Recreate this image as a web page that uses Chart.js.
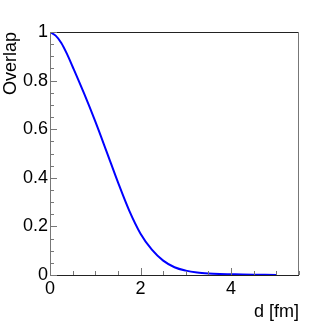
<!DOCTYPE html>
<html>
<head>
<meta charset="utf-8">
<script src="https://cdn.jsdelivr.net/npm/chart.js@4/dist/chart.umd.min.js"></script>
<style>
  html, body { margin: 0; padding: 0; background: #fff; }
</style>
</head>
<body>
<canvas id="overlap-chart" width="332" height="324"></canvas>
<script>
( function () {
	'use strict';

	// distance d [fm] and overlap
	var dValues = [ 0, 0.125, 0.25, 0.375, 0.5, 0.75, 1.0, 1.25, 1.5, 1.75, 2.0, 2.25, 2.5, 2.75, 3.0, 3.25, 3.5, 3.75, 4.0, 4.25, 4.5, 4.75, 5.0 ];
	var overlapValues = [ 1.0, 0.985, 0.955, 0.91, 0.857, 0.748, 0.632, 0.508, 0.382, 0.265, 0.17, 0.104, 0.059, 0.032, 0.018, 0.01, 0.006, 0.004, 0.003, 0.002, 0.0012, 0.0008, 0.0005 ];

	var xMajorTicks = [ 0, 2, 4 ];
	var yMajorTicks = [ 0, 0.2, 0.4, 0.6, 0.8, 1 ];
	var xMinorStep = 0.5;
	var yMinorStep = 0.05;

	var points = dValues.map( function ( d, i ) {
		return { x: d, y: overlapValues[ i ] };
	} );

	var font = { family: '"Liberation Sans", Arial, Helvetica, sans-serif', size: 18 };

	function plainNumber( value ) {
		return String( Number( value.toFixed( 2 ) ) );
	}

	// ROOT-like frame with inward tick marks
	var framePlugin = {
		id: 'rootFrame',
		afterDraw: function ( chart ) {
			var ctx = chart.ctx;
			var a = chart.chartArea;
			var xs = chart.scales.x;
			var ys = chart.scales.y;
			var v, p;
			ctx.save();
			ctx.lineWidth = 1;

			ctx.strokeStyle = '#222';
			ctx.beginPath();
			ctx.moveTo( a.left, Math.round( a.top ) + 0.5 );
			ctx.lineTo( a.right, Math.round( a.top ) + 0.5 );
			ctx.moveTo( a.left, Math.round( a.bottom ) + 0.5 );
			ctx.lineTo( a.right, Math.round( a.bottom ) + 0.5 );
			ctx.stroke();

			ctx.strokeStyle = '#777';
			ctx.beginPath();
			ctx.moveTo( Math.round( a.left ) + 0.5, a.top );
			ctx.lineTo( Math.round( a.left ) + 0.5, a.bottom );
			ctx.moveTo( Math.round( a.right ) - 0.5, a.top );
			ctx.lineTo( Math.round( a.right ) - 0.5, a.bottom );
			ctx.stroke();

			ctx.beginPath();
			for ( v = 0; v <= xs.max + 1e-9; v += xMinorStep ) {
				p = Math.round( xs.getPixelForValue( v ) ) + 0.5;
				var xl = xMajorTicks.indexOf( Math.round( v * 100 ) / 100 ) >= 0 ? 7 : 4;
				ctx.moveTo( p, a.bottom );
				ctx.lineTo( p, a.bottom - xl );
			}
			for ( v = 0; v <= ys.max + 1e-9; v += yMinorStep ) {
				p = Math.round( ys.getPixelForValue( v ) ) + 0.5;
				var major = yMajorTicks.some( function ( t ) {
					return Math.abs( t - v ) < 1e-6;
				} );
				ctx.moveTo( a.left, p );
				ctx.lineTo( a.left + ( major ? 7 : 4 ), p );
			}
			ctx.stroke();
			ctx.restore();
		},
	};

	new Chart( document.getElementById( 'overlap-chart' ).getContext( '2d' ), {
		type: 'line',
		data: {
			datasets: [ {
				label: 'Overlap',
				data: points,
				borderColor: '#0000ff',
				borderWidth: 2,
				pointRadius: 0,
				fill: false,
				cubicInterpolationMode: 'monotone',
			} ],
		},
		options: {
			responsive: false,
			animation: false,
			layout: { padding: { top: 32, right: 33, bottom: 0, left: 0 } },
			plugins: {
				legend: { display: false },
				tooltip: { enabled: false },
			},
			scales: {
				x: {
					type: 'linear',
					min: 0,
					max: 5.5,
					grid: { display: false, drawTicks: false },
					border: { display: false },
					ticks: {
						stepSize: 2,
						includeBounds: false,
						padding: 3,
						color: '#000',
						font: font,
						maxRotation: 0,
						callback: plainNumber,
					},
					title: {
						display: true,
						text: 'd [fm]',
						align: 'end',
						color: '#000',
						font: font,
						padding: { top: 0, bottom: 1 },
					},
					afterFit: function ( scale ) {
						scale.height = 49;
					},
				},
				y: {
					min: 0,
					max: 1,
					grid: { display: false, drawTicks: false },
					border: { display: false },
					ticks: {
						stepSize: 0.2,
						padding: 2,
						color: '#000',
						font: font,
						callback: plainNumber,
					},
					title: {
						display: true,
						text: 'Overlap',
						align: 'end',
						color: '#000',
						font: font,
						padding: 0,
					},
					afterFit: function ( scale ) {
						scale.width = 50;
					},
				},
			},
		},
		plugins: [ framePlugin ],
	} );
} )();
</script>
</body>
</html>
